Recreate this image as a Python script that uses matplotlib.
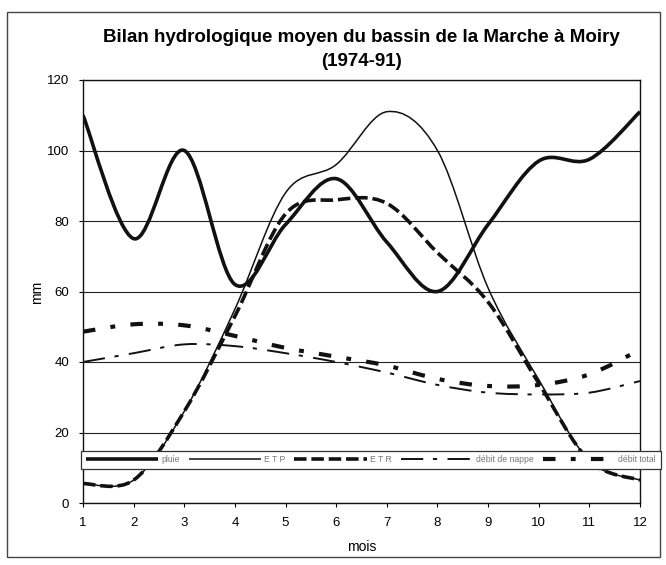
import matplotlib
matplotlib.use('Agg')
import matplotlib.pyplot as plt
from matplotlib.path import Path
from matplotlib.patches import PathPatch, Rectangle
from matplotlib.lines import Line2D

# Bilan hydrologique mensuel (mm), moyennes 1974-91
mois = [1, 2, 3, 4, 5, 6, 7, 8, 9, 10, 11, 12]
pluie = [110, 75, 100, 62, 79, 92, 74, 60, 79, 97, 97.5, 111]
etp = [5.5, 6.5, 26, 55, 88, 96, 111, 100, 61, 35, 12, 6.5]
etr = [5.5, 6.5, 26, 53, 82, 86, 85, 71, 57, 34, 12, 6.5]
debit_nappe = [40, 42.5, 45, 44.5, 42.5, 40, 37, 33.5, 31.3, 30.8, 31.3, 34.6]
debit_total = [48.6, 50.7, 50.4, 47.4, 44, 41.5, 39, 35.2, 33.2, 33.5, 36.5, 43.5]
noms = ['pluie', 'E T P', 'E T R', 'débit de nappe', 'débit total']

plt.rcParams['font.family'] = ['Liberation Sans', 'DejaVu Sans']
plt.rcParams['lines.scale_dashes'] = False


def courbe_lissee(x, y):
    # courbe de Bezier passant par les points (lissage type tableur)
    n = len(x)
    verts = [(x[0], y[0])]
    codes = [Path.MOVETO]
    for i in range(n - 1):
        a = max(i - 1, 0)
        b = min(i + 2, n - 1)
        c1 = (x[i] + (x[i + 1] - x[a]) / 6, y[i] + (y[i + 1] - y[a]) / 6)
        c2 = (x[i + 1] - (x[b] - x[i]) / 6, y[i + 1] - (y[b] - y[i]) / 6)
        verts += [c1, c2, (x[i + 1], y[i + 1])]
        codes += [Path.CURVE4] * 3
    return Path(verts, codes)


styles = [
    dict(lw=2.6, linestyle='-'),
    dict(lw=1.1, linestyle='-'),
    dict(lw=2.6, linestyle=(0, (9, 3.5))),
    dict(lw=1.4, linestyle=(0, (16, 7, 3, 7.5))),
    dict(lw=3.0, linestyle=(0, (9, 11, 3.5, 11))),
]
series = [pluie, etp, etr, debit_nappe, debit_total]

fig = plt.figure(figsize=(6.66, 5.65), dpi=100)
ax = fig.add_axes([83 / 666, 1 - 503 / 565, 557 / 666, 423 / 565])

for s, st in zip(series, styles):
    patch = PathPatch(courbe_lissee(mois, s), facecolor='none',
                      edgecolor='#111111', capstyle='butt', **st)
    ax.add_patch(patch)

ax.set_xlim(1, 12)
ax.set_ylim(0, 120)
ax.set_xticks(mois)
ax.set_yticks(range(0, 121, 20))
ax.tick_params(labelsize=9.5, length=3, width=0.8, direction='out', pad=7)
ax.yaxis.grid(True, color='#222222', lw=0.8)
ax.set_axisbelow(True)
for sp in ax.spines.values():
    sp.set_color('#111111')
    sp.set_linewidth(1.0)

fig.text(361.5 / 666, 1 - 38 / 565, 'Bilan hydrologique moyen du bassin de la Marche à Moiry',
         ha='center', va='center', fontsize=13.5, fontweight='bold')
fig.text(361.5 / 666, 1 - 62 / 565, '(1974-91)',
         ha='center', va='center', fontsize=13.5, fontweight='bold')
fig.text(361.5 / 666, 1 - 547 / 565, 'mois', ha='center', va='center', fontsize=10)
fig.text(37 / 666, 1 - 292 / 565, 'mm', ha='center', va='center', fontsize=10, rotation=90)

# cadre de la zone du graphique
fig.add_artist(Rectangle((7 / 666, 8 / 565), 653 / 666, 545 / 565, transform=fig.transFigure,
                         fill=False, edgecolor='#444444', lw=1.0))

poignees = [Line2D([], [], color='#111111', solid_capstyle='butt', dash_capstyle='butt', **st)
            for st in styles]
leg = fig.legend(poignees, noms, loc='center left', bbox_to_anchor=(81 / 666, 1 - 460 / 565),
                 ncol=5, fontsize=6.2, handlelength=8.4, handletextpad=0.4, columnspacing=1.0,
                 borderpad=0.55, borderaxespad=0, frameon=True, fancybox=False, framealpha=1)
leg.get_frame().set_edgecolor('#333333')
leg.get_frame().set_linewidth(0.9)
for t in leg.get_texts():
    t.set_color('#777777')

plt.savefig('out.png', dpi=100)
